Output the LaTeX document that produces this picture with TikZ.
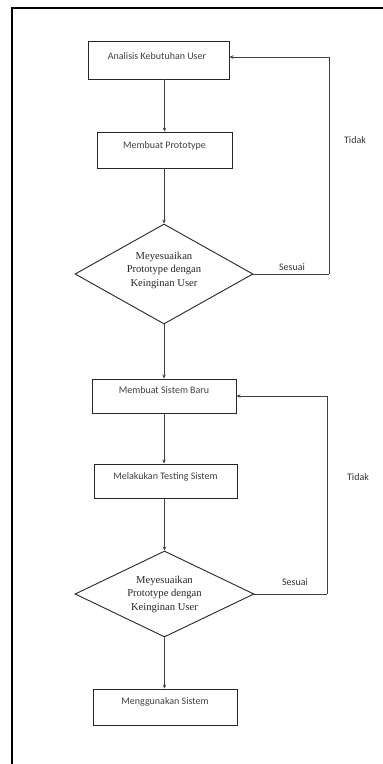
\documentclass[tikz,border=0pt]{standalone}
\usepackage{fontspec}
\setmainfont{Liberation Serif}
\newfontfamily\carl{Carlito}
\usetikzlibrary{shapes.geometric,arrows.meta}
\begin{document}
\begin{tikzpicture}[x=1pt,y=-1pt,
  boxst/.style={draw=black!85,line width=0.9pt,rectangle,inner sep=0pt},
  dia/.style={draw=black!85,line width=0.9pt,diamond,inner sep=0pt},
  btext/.style={font=\carl\fontsize{10}{12}\selectfont,text=black!75,inner sep=0pt},
  dtext/.style={font=\fontsize{10.6}{13.5}\selectfont,text=black!85,align=center,inner sep=0pt},
  lbl/.style={font=\carl\fontsize{10}{12}\selectfont,text=black!80,inner sep=0pt},
  arr/.style={draw=black!75,line width=0.8pt,-{Stealth[length=4pt,width=3.5pt]}},
  ln/.style={draw=black!75,line width=0.8pt}]
\useasboundingbox (0,0) rectangle (383,764);
\draw[line width=2pt] (12,764) -- (12,8) -- (384,8);

\node[boxst,minimum width=141pt,minimum height=38pt] (b1) at (158.5,60) {};
\node[btext] (t1) at (157,56) {Analisis Kebutuhan User};
\node[boxst,minimum width=135pt,minimum height=36pt] (b2) at (164.5,150) {};
\node[btext] (t2) at (164.5,146) {Membuat Prototype};
\node[dia,minimum width=178pt,minimum height=100pt] (d1) at (164,274) {};
\node[dtext] (td1) at (164,270) {Meyesuaikan\\Prototype dengan\\Keinginan User};
\node[boxst,minimum width=144pt,minimum height=34pt] (b3) at (164,396) {};
\node[btext] (t3) at (164,390) {Membuat Sistem Baru};
\node[boxst,minimum width=143pt,minimum height=34pt] (b4) at (165.5,481) {};
\node[btext] (t4) at (165.5,477) {Melakukan Testing Sistem};
\node[dia,minimum width=179pt,minimum height=86pt] (d2) at (164.5,594) {};
\node[dtext] (td2) at (164.5,594) {Meyesuaikan\\Prototype dengan\\Keinginan User};
\node[boxst,minimum width=144pt,minimum height=36pt] (b5) at (165,707) {};
\node[btext] (t5) at (165,702) {Menggunakan Sistem};

\node[lbl] (s1) at (292,267) {Sesuai};
\node[lbl] (n1) at (355,140) {Tidak};
\node[lbl] (s2) at (295,582) {Sesuai};
\node[lbl] (n2) at (358,477) {Tidak};

\coordinate (c1) at (329,274);
\coordinate (c2) at (327,594);

\draw[arr] (b2.north |- b1.south) -- (b2.north);
\draw[arr] (d1.north |- b2.south) -- (d1.north);
\draw[arr] (d1.south) -- (d1.south |- b3.north);
\draw[arr] (b3.south) -- (b3.south |- b4.north);
\draw[arr] (d2.north |- b4.south) -- (d2.north);
\draw[arr] (d2.south) -- (d2.south |- b5.north);
\draw[ln] (d1.east) -- (c1);
\draw[arr] (c1) |- ([yshift=3pt]b1.east);
\draw[ln] (d2.east) -- (c2);
\draw[arr] (c2) |- (b3.east);
\end{tikzpicture}
\end{document}
